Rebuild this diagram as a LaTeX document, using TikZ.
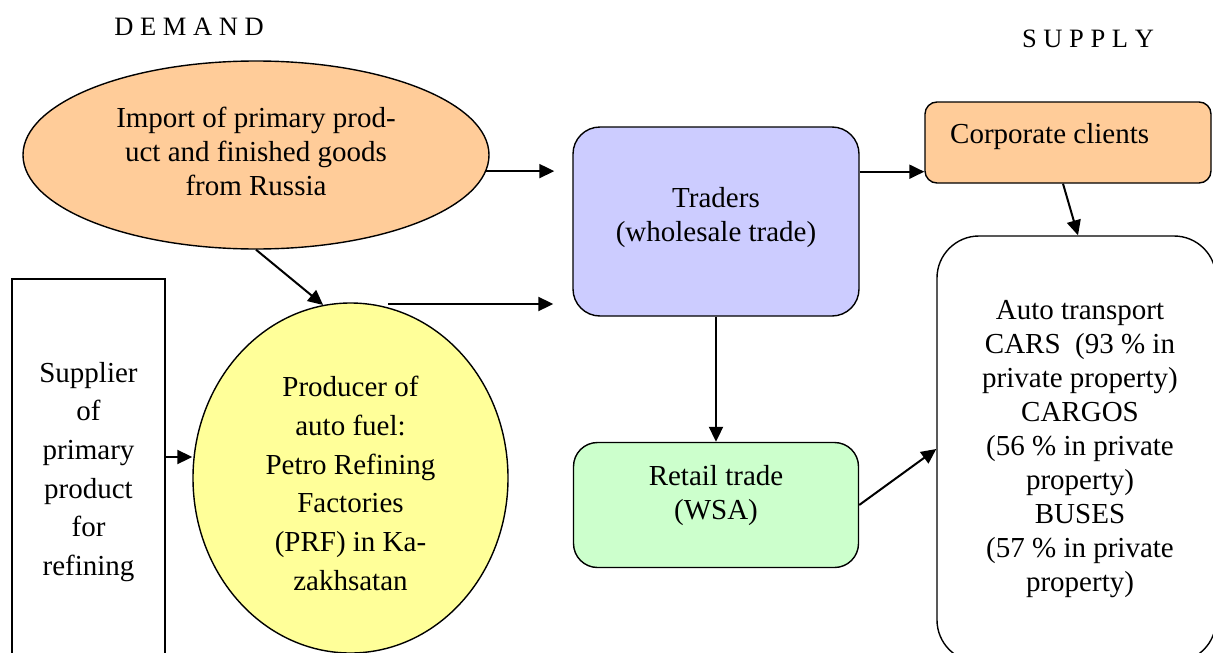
\documentclass[tikz,border=0pt]{standalone}
\usepackage{fontspec}
\setmainfont{Liberation Serif}
\usetikzlibrary{shapes.geometric,arrows.meta,calc}
\definecolor{orangef}{HTML}{FFCC99}
\definecolor{lavf}{HTML}{CCCCFF}
\definecolor{greenf}{HTML}{CCFFCC}
\definecolor{yellowf}{HTML}{FFFF99}
\begin{document}
\begin{tikzpicture}[x=1pt,y=-1pt,
  shapeline/.style={draw=black,line width=1.4pt,inner sep=0pt},
  txt/.style={font=\fontsize{29}{34}\selectfont,align=center,inner sep=0pt},
  txtwide/.style={font=\fontsize{29}{38.7}\selectfont,align=center,inner sep=0pt},
  hdr/.style={font=\fontsize{26.5}{30}\selectfont,inner sep=0pt},
  arr/.style={line width=2pt,-{Triangle[length=15pt,width=14pt]}}]
\useasboundingbox (0,0) rectangle (1213,653);
\clip (0,0) rectangle (1213,653);
\fill[white] (0,0) rectangle (1213,653);

% headers
\node[hdr] (demand) at (189,27) {D E M A N D};
\node[hdr] (supply) at (1088,39) {S U P P L Y};

% shapes
\node[shapeline,ellipse,fill=orangef,minimum width=466,minimum height=188] (import) at (256,155) {};
\node[shapeline,rectangle,rounded corners=27pt,fill=lavf,minimum width=286,minimum height=189] (traders) at (716,221.5) {};
\node[shapeline,rectangle,rounded corners=12pt,fill=orangef,minimum width=286,minimum height=81] (corp) at (1068,142.5) {};
\node[shapeline,rectangle,rounded corners=42pt,fill=white,minimum width=279,minimum height=426] (auto) at (1076.5,449) {};
\node[shapeline,rectangle,rounded corners=24pt,fill=greenf,minimum width=285,minimum height=125] (retail) at (716,505) {};
\node[shapeline,ellipse,fill=yellowf,minimum width=315,minimum height=350] (producer) at (350.5,478) {};
\node[shapeline,rectangle,fill=white,minimum width=153,minimum height=381] (supplier) at (88.5,469.5) {};

% texts
\node[txt] (importtxt) at (256,151) {Import of primary prod-\\uct and finished goods\\from Russia};
\node[txt] (traderstxt) at (716,218) {Traders\\(wholesale trade)};
\node[txt,anchor=west] (corptxt) at (950,137) {Corporate clients};
\node[txt] (retailtxt) at (716,496) {Retail trade\\(WSA)};
\node[txt] (autotxt) at (1080,449) {Auto transport\\CARS\ \ (93 \% in\\private property)\\CARGOS\\(56 \% in private\\property)\\BUSES\\(57 \% in private\\property)};
\node[txtwide] (producertxt) at (350.5,483.5) {Producer of\\auto fuel:\\Petro Refining\\Factories\\(PRF) in Ka-\\zakhsatan};
\node[txtwide] (suppliertxt) at (88.5,472) {Supplier\\of\\primary\\product\\for\\refining};

% connectors
\draw[arr,shorten >=18pt] (import.-4.2) -- (import.-4.2 -| traders.west);
\draw[arr] ([yshift=12pt]traders.east |- corp.south) -- ([yshift=12pt]corp.south west);
\draw[arr] ([xshift=-5pt]corp.south) -- ([xshift=1.5pt]auto.north);
\draw[arr] (traders.south) -- (retail.north);
\draw[arr] (retail.east) -- (auto.west);
\draw[arr] (import.south) -- (producer.99);
\coordinate (prfout) at (388,304);
\draw[arr,shorten >=19pt] (prfout) -- (prfout -| traders.west);
\draw[arr] ([yshift=12.5pt]supplier.east) -- ([yshift=12.5pt]supplier.east -| producer.west);
\end{tikzpicture}
\end{document}
